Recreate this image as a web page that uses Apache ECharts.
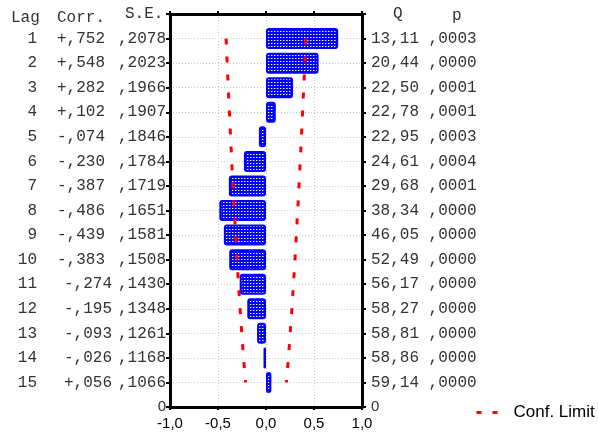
<!DOCTYPE html>
<html><head><meta charset="utf-8">
<script src="https://cdn.jsdelivr.net/npm/echarts@6/dist/echarts.min.js"></script>
<style>html,body{margin:0;padding:0;background:#fff}#c{width:598px;height:432px}</style>
</head><body><div id="c"></div>
<script>
const lags = ['1','2','3','4','5','6','7','8','9','10','11','12','13','14','15'];
const corrValues = [0.752,0.548,0.282,0.102,-0.074,-0.230,-0.387,-0.486,-0.439,-0.383,-0.274,-0.195,-0.093,-0.026,0.056];
const corrLabels = ['+,752','+,548','+,282','+,102','-,074','-,230','-,387','-,486','-,439','-,383','-,274','-,195','-,093','-,026','+,056'];
const seLabels = [',2078',',2023',',1966',',1907',',1846',',1784',',1719',',1651',',1581',',1508',',1430',',1348',',1261',',1168',',1066'];
const qLabels = ['13,11','20,44','22,50','22,78','22,95','24,61','29,68','38,34','46,05','52,49','56,17','58,27','58,81','58,86','59,14'];
const pLabels = [',0003',',0000',',0001',',0001',',0003',',0004',',0001',',0000',',0000',',0000',',0000',',0000',',0000',',0000',',0000'];
const confLimit = [0.416,0.405,0.393,0.381,0.369,0.357,0.344,0.330,0.316,0.302,0.286,0.270,0.252,0.234,0.213];
const headerLeft = ['Lag','Corr.','S.E.'];
const headerRight = ['Q','p'];
const legendName = 'Conf. Limit';

const MONO = '"Liberation Mono", "DejaVu Sans Mono", monospace';
const SANS = '"Liberation Sans", Arial, sans-serif';

// pattern for bar fill
const pat = document.createElement('canvas');
pat.width = 3; pat.height = 3;
const pctx = pat.getContext('2d');
pctx.fillStyle = '#0000ff'; pctx.fillRect(0,0,3,3);
pctx.fillStyle = '#ffffff'; pctx.fillRect(1,1,1,1);
pctx.fillStyle = '#6f6fff'; pctx.fillRect(2,1,1,1);

const cats = [''].concat(lags).concat(['0']);
const pad = arr => [null].concat(arr).concat([null]);

const TXT = '#333';
const monoTok = (w) => ({fontFamily: MONO, fontSize: 16, color: TXT, width: w, align: 'right'});

const chart = echarts.init(document.getElementById('c'), null, {renderer: 'canvas'});
chart.setOption({
  animation: false,
  backgroundColor: '#fff',
  grid: {left: 170, top: 14, width: 192, height: 393, containLabel: false},
  legend: {
    data: [legendName], left: 470, top: 399, itemWidth: 21, itemHeight: 12,
    lineStyle: {color: '#ff0000', width: 3, type: [5, 11]},
    itemStyle: {opacity: 0},
    textStyle: {fontFamily: SANS, fontSize: 17, color: '#000', padding: [0,0,0,11]}
  },
  xAxis: [{
    type: 'value', min: -1, max: 1, interval: 0.5, position: 'bottom',
    axisLine: {show: true, onZero: false, lineStyle: {color: '#000', width: 3}},
    axisTick: {show: true, length: 3, lineStyle: {color: '#000', width: 2}},
    axisLabel: {fontFamily: SANS, fontSize: 15, color: '#000', margin: 9,
      formatter: v => v.toFixed(1).replace('.', ',')},
    splitLine: {show: true, lineStyle: {color: '#c8c8c8', type: [1, 2], width: 1}}
  }, {
    type: 'value', min: -1, max: 1, interval: 0.5, position: 'top',
    axisLine: {show: true, onZero: false, lineStyle: {color: '#000', width: 3}},
    axisTick: {show: true, length: 3, lineStyle: {color: '#000', width: 2}},
    axisLabel: {show: false}, splitLine: {show: false}
  }],
  yAxis: [{
    type: 'category', data: cats, inverse: true, boundaryGap: false, position: 'left',
    axisLine: {show: true, onZero: false, lineStyle: {color: '#000', width: 3}},
    axisTick: {show: true, length: 4, lineStyle: {color: '#000', width: 2}},
    splitLine: {show: true, lineStyle: {color: '#c8c8c8', type: [1, 2], width: 1}},
    axisLabel: {
      margin: 4, interval: 0, align: 'right',
      formatter: (v, i) => {
        if (i === 0) return '';
        if (i === cats.length - 1) return '{z|' + v + '}';
        const k = i - 1;
        const late = k >= 10;
        return '{l|' + lags[k] + '}' + (late ? '{c2|' : '{c|') + corrLabels[k] + '}' + (late ? '{s2|' : '{s|') + seLabels[k] + '}';
      },
      rich: {
        l: monoTok(30), c: monoTok(68), s: monoTok(61), c2: monoTok(75), s2: monoTok(54),
        z: {fontFamily: SANS, fontSize: 15, color: TXT}
      }
    }
  }, {
    type: 'category', data: cats, inverse: true, boundaryGap: false, position: 'right',
    axisLine: {show: true, onZero: false, lineStyle: {color: '#000', width: 3}},
    axisTick: {show: true, length: 4, lineStyle: {color: '#000', width: 2}},
    splitLine: {show: false},
    axisLabel: {
      margin: 9, interval: 0, align: 'left',
      formatter: (v, i) => {
        if (i === 0) return '';
        if (i === cats.length - 1) return '{z|' + v + '}';
        const k = i - 1;
        return '{m|' + qLabels[k] + ' ' + pLabels[k] + '}';
      },
      rich: {
        m: {fontFamily: MONO, fontSize: 16, color: TXT},
        z: {fontFamily: SANS, fontSize: 15, color: TXT}
      }
    }
  }],
  graphic: [
    {type: 'text', left: 11, top: 10, style: {text: headerLeft[0], font: '16px ' + MONO, fill: TXT}},
    {type: 'text', left: 57, top: 10, style: {text: headerLeft[1], font: '16px ' + MONO, fill: TXT}},
    {type: 'text', left: 125, top: 6, style: {text: headerLeft[2], font: '16px ' + MONO, fill: TXT}},
    {type: 'text', left: 393, top: 6, style: {text: headerRight[0], font: '16px ' + MONO, fill: TXT}},
    {type: 'text', left: 452, top: 8, style: {text: headerRight[1], font: '16px ' + MONO, fill: TXT}}
  ],
  series: [{
    type: 'bar', name: 'Corr', xAxisIndex: 0, yAxisIndex: 0,
    data: pad(corrValues), barWidth: 21,
    itemStyle: {color: {image: pat, repeat: 'repeat'}, borderColor: '#0000ff', borderWidth: 2, borderRadius: 2},
    z: 2
  }, {
    type: 'line', name: legendName, xAxisIndex: 0, yAxisIndex: 0,
    data: pad(confLimit.map(v => -v)), symbol: 'none',
    lineStyle: {color: '#ff0000', width: 3, type: [6, 12]}, z: 3
  }, {
    type: 'line', name: legendName, xAxisIndex: 0, yAxisIndex: 0,
    data: pad(confLimit), symbol: 'none',
    lineStyle: {color: '#ff0000', width: 3, type: [6, 12]}, z: 3
  }]
});
</script></body></html>
